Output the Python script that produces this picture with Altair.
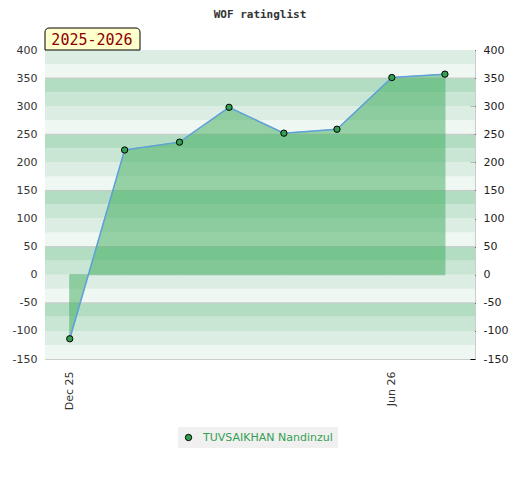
import altair as alt
import pandas as pd

# ---- data ----
dates = ["2025-12-01T00:00:00", "2026-01-01T00:00:00", "2026-02-01T00:00:00",
         "2026-03-01T00:00:00", "2026-04-01T00:00:00", "2026-05-01T00:00:00",
         "2026-06-01T00:00:00", "2026-07-01T00:00:00"]
ratings = [-114, 222, 236, 298, 252, 259, 351, 357]
player = "TUVSAIKHAN Nandinzul"
title_text = "WOF ratinglist"
season = "2025-2026"

y_min, y_max = -150, 400
band_step = 25
band_colors = ["#dcede3", "#eff7f2", "#b3ddc3", "#c8e6d3"]  # from top of each 100-block
gray_lines = [350, 250, 150, 50, -50]

df = pd.DataFrame({"date": dates, "rating": ratings, "player": [player] * len(dates)})

lows = list(range(y_min, y_max, band_step))
bands = pd.DataFrame({
    "lo": lows,
    "hi": [l + band_step for l in lows],
    "col": [band_colors[((y_max - (l + band_step)) // band_step) % 4] for l in lows],
})
lines_df = pd.DataFrame({"v": gray_lines})

W, H = 430, 309
yscale = alt.Scale(domain=[y_min, y_max], nice=False, zero=False)
xscale = alt.Scale(domain=[alt.DateTime(year=2025, month=11, date=17),
                           alt.DateTime(year=2026, month=7, date=18)])

lab_fix = "replace(datum.label, '\u2212', '-')"

x_enc = alt.X("date:T", scale=xscale, title=None,
              axis=alt.Axis(values=[alt.DateTime(year=2025, month=12, date=1),
                                    alt.DateTime(year=2026, month=6, date=1)],
                            format="%b %y", labelAngle=270, ticks=False, tickSize=0,
                            domain=False, grid=False, labelPadding=12,
                            labelFont="DejaVu Sans", labelFontSize=11, labelColor="#333333"))

band_layer = alt.Chart(bands).mark_rect().encode(
    x=alt.value(0), x2=alt.value(W),
    y=alt.Y("lo:Q", scale=yscale, title=None, axis=None),
    y2="hi:Q",
    color=alt.Color("col:N", scale=None),
)

rule_layer = alt.Chart(lines_df).mark_rule(color="#c8c8c8", strokeWidth=1).encode(
    y=alt.Y("v:Q", scale=yscale, axis=None)
)

area_layer = alt.Chart(df).mark_area(
    color="#36a955", opacity=0.48, stroke="#3a9d5d", strokeWidth=1, strokeOpacity=1
).encode(
    x=x_enc, y=alt.Y("rating:Q", scale=yscale, axis=None), y2=alt.datum(0)
)

line_layer = alt.Chart(df).mark_line(color="#5ea0da", strokeWidth=1.5).encode(
    x="date:T", y=alt.Y("rating:Q", scale=yscale, axis=None)
)

point_layer = alt.Chart(df).mark_point(filled=True, size=40, stroke="black",
                                       strokeWidth=1, opacity=1).encode(
    x="date:T", y=alt.Y("rating:Q", scale=yscale, axis=None),
    color=alt.Color("player:N", scale=alt.Scale(range=["#33a050"]),
                    legend=alt.Legend(title=None, orient="none", legendX=133, legendY=377,
                                      fillColor="#f0f0f0", padding=5, symbolType="circle",
                                      symbolSize=40, symbolStrokeColor="black",
                                      symbolStrokeWidth=1, labelColor="#33a050",
                                      labelOffset=9,
                                      labelFont="DejaVu Sans", labelFontSize=11)),
)

main = alt.layer(band_layer, rule_layer, area_layer, line_layer, point_layer)

left_axis = alt.Chart(df).mark_point(opacity=0).encode(
    x="date:T",
    y=alt.Y("rating:Q", scale=yscale, title=None,
            axis=alt.Axis(orient="left", values=list(range(y_min, y_max + 1, 50)),
                          ticks=False, tickSize=0, domain=False, grid=False,
                          labelPadding=8, labelExpr=lab_fix, labelOverlap=False,
                          labelFont="DejaVu Sans", labelFontSize=11, labelColor="#333333")),
)

right_axis = alt.Chart(df).mark_point(opacity=0).encode(
    x="date:T",
    y=alt.Y("rating:Q", scale=yscale, title=None,
            axis=alt.Axis(orient="right", values=list(range(y_min, y_max + 1, 10)),
                          offset=-5, domain=False, grid=False,
                          tickColor="black", tickWidth=1,
                          tickSize={"condition": {"test": "datum.value % 50 === 0", "value": 5},
                                    "value": 3},
                          labelPadding=8, labelOverlap=False,
                          labelExpr="datum.value % 50 === 0 ? " + lab_fix + " : ''",
                          labelFont="DejaVu Sans", labelFontSize=11, labelColor="#222222")),
)

badge_df = pd.DataFrame({"t": [season]})
badge_box = alt.Chart(badge_df).mark_rect(
    fill="#ffffcc", stroke="black", strokeWidth=1,
    cornerRadiusTopLeft=4, cornerRadiusTopRight=4
).encode(x=alt.value(0), x2=alt.value(95), y=alt.value(-22), y2=alt.value(0))
badge_text = alt.Chart(badge_df).mark_text(
    font="DejaVu Sans Mono", fontSize=15, color="#8b0000", align="center", baseline="middle"
).encode(x=alt.value(47), y=alt.value(-10), text="t:N")

chart = alt.layer(main, left_axis, right_axis, badge_box, badge_text).resolve_scale(
    y="independent"
).properties(
    width=W, height=H,
    autosize=alt.AutoSizeParams(type="none"),
    padding={"left": 37, "top": 42, "right": 36, "bottom": 110},
    title=alt.TitleParams(title_text, font="DejaVu Sans Mono", fontSize=11,
                          fontWeight="bold", color="#333333", offset=8, anchor="middle"),
).configure_view(stroke="#cccccc", strokeWidth=1)

chart.save("out.html", embed_options={"renderer": "svg", "actions": False})
